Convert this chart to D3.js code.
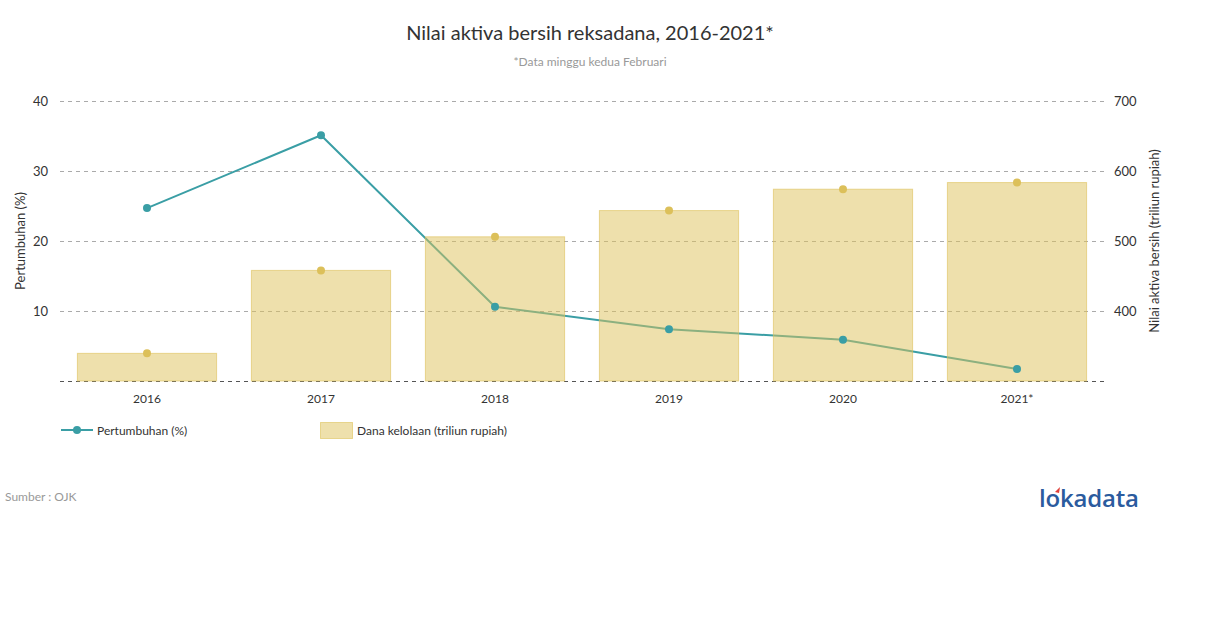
<!DOCTYPE html>
<html><head><meta charset="utf-8">
<script src="https://cdn.jsdelivr.net/npm/d3@7"></script>
<style>body{margin:0;background:#fff;font-family:Lato,sans-serif;}</style>
</head><body>
<svg id="c" width="1210" height="628"></svg>
<script>
const categories = ["2016","2017","2018","2019","2020","2021*"];
const growth = [24.7, 35.1, 10.6, 7.4, 5.9, 1.7];
const funds = [339.5, 458, 506, 543.5, 574, 583.5];
const leftTicks = [10,20,30,40];
const rightTicks = [400,500,600,700];

const svg = d3.select("#c");
const x = d3.scaleBand().domain(categories).range([60,1104]).paddingInner(0.2).paddingOuter(0.1);
const yL = d3.scaleLinear().domain([0,40]).range([381,101]);
const yR = d3.scaleLinear().domain([300,700]).range([381,101]);

svg.append("text").attr("x",590).attr("y",40).attr("text-anchor","middle")
  .attr("font-size",20).attr("fill","#333").text("Nilai aktiva bersih reksadana, 2016-2021*");
svg.append("text").attr("x",590).attr("y",66).attr("text-anchor","middle")
  .attr("font-size",12).attr("fill","#999").text("*Data minggu kedua Februari");

// grid
const g = svg.append("g");
g.selectAll("line.grid").data(leftTicks).join("line")
  .attr("x1",60).attr("x2",1104).attr("y1",d=>yL(d)+0.5).attr("y2",d=>yL(d)+0.5)
  .attr("stroke","#aaa").attr("stroke-dasharray","4,4");
g.append("line").attr("x1",60).attr("x2",1104).attr("y1",yL(0)+0.5).attr("y2",yL(0)+0.5)
  .attr("stroke","#555").attr("stroke-dasharray","4,4");

const axL = svg.append("g").attr("transform","translate(48,0)")
  .call(d3.axisLeft(yL).tickValues(leftTicks).tickSize(0).tickPadding(0));
axL.select(".domain").remove();
axL.selectAll("text").attr("font-family","Lato,sans-serif").attr("font-size",13).attr("fill","#333");
const axR = svg.append("g").attr("transform","translate(1114,0)")
  .call(d3.axisRight(yR).tickValues(rightTicks).tickSize(0).tickPadding(0));
axR.select(".domain").remove();
axR.selectAll("text").attr("font-family","Lato,sans-serif").attr("font-size",13).attr("fill","#333");

const axX = svg.append("g").attr("transform","translate(0,381)")
  .call(d3.axisBottom(x).tickSize(0).tickPadding(13));
axX.select(".domain").remove();
axX.selectAll("text").attr("font-family","Lato,sans-serif").attr("font-size",12).attr("fill","#333");

svg.append("text").attr("transform","translate(25,241) rotate(-90)").attr("text-anchor","middle")
  .attr("font-size",13).attr("fill","#333").text("Pertumbuhan (%)");
svg.append("text").attr("transform","translate(1159,241) rotate(-90)").attr("text-anchor","middle")
  .attr("font-size",13).attr("fill","#333").text("Nilai aktiva bersih (triliun rupiah)");

const line = d3.line().x((d,i)=>x(categories[i])+x.bandwidth()/2).y(d=>yL(d));
svg.append("path").datum(growth).attr("d",line).attr("fill","none")
  .attr("stroke","#3a9ea5").attr("stroke-width",2);

svg.selectAll("rect.bar").data(funds).join("rect")
  .attr("x",(d,i)=>x(categories[i])).attr("width",x.bandwidth())
  .attr("y",d=>yR(d)).attr("height",d=>yR(300)-yR(d))
  .attr("fill","rgba(221,193,90,0.5)").attr("stroke","rgba(221,193,90,0.6)").attr("stroke-width",1);

svg.selectAll("circle.fd").data(funds).join("circle")
  .attr("cx",(d,i)=>x(categories[i])+x.bandwidth()/2).attr("cy",d=>yR(d)).attr("r",4)
  .attr("fill","#dcc05a");
svg.selectAll("circle.gr").data(growth).join("circle")
  .attr("cx",(d,i)=>x(categories[i])+x.bandwidth()/2).attr("cy",d=>yL(d)).attr("r",4)
  .attr("fill","#3a9ea5");

const lg = svg.append("g");
lg.append("line").attr("x1",61).attr("x2",93).attr("y1",430).attr("y2",430).attr("stroke","#3a9ea5").attr("stroke-width",2);
lg.append("circle").attr("cx",77).attr("cy",430).attr("r",4).attr("fill","#3a9ea5");
lg.append("text").attr("x",97).attr("y",434.5).attr("font-size",12).attr("fill","#333").text("Pertumbuhan (%)");
lg.append("rect").attr("x",320.5).attr("y",422.5).attr("width",32).attr("height",16)
  .attr("fill","rgba(221,193,90,0.5)").attr("stroke","rgba(221,193,90,0.6)");
lg.append("text").attr("x",357).attr("y",434.5).attr("font-size",12).attr("fill","#333").text("Dana kelolaan (triliun rupiah)");

svg.append("text").attr("x",5).attr("y",501).attr("font-size",12).attr("fill","#999").text("Sumber : OJK");

const logo = svg.append("g");
logo.append("text").attr("x",1039).attr("y",507).attr("font-family","'Open Sans',sans-serif")
  .attr("font-size",24).attr("font-weight",600).attr("fill","#2b5b9e").attr("letter-spacing",-0.2).text("lokadata");
logo.append("path").attr("d","M1055,492 l5,-5 l-1,6 z").attr("fill","#e0403a");
</script>
</body></html>
